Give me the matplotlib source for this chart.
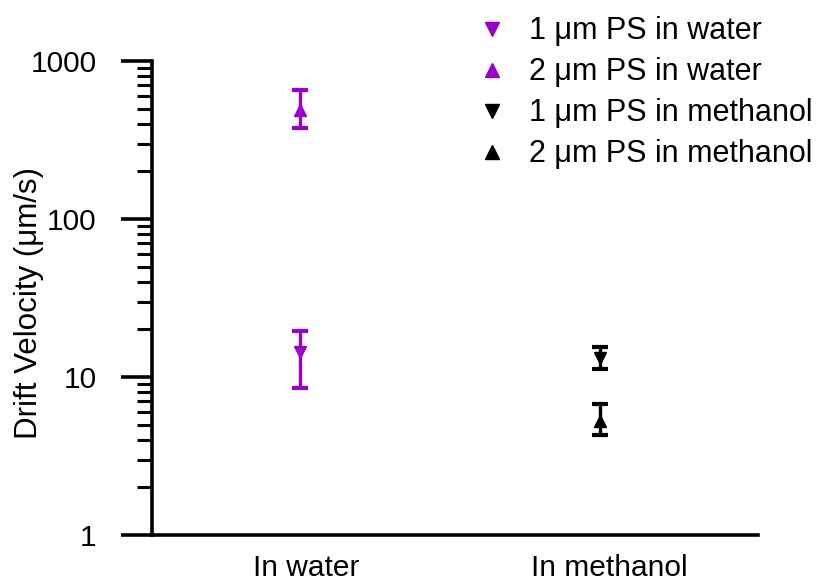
import matplotlib
matplotlib.use("Agg")
import matplotlib.pyplot as plt
from matplotlib.lines import Line2D
from matplotlib.ticker import FixedLocator, NullFormatter, LogLocator
import numpy as np

plt.rcParams['font.family'] = ['Liberation Sans', 'DejaVu Sans']

categories = ["In water", "In methanol"]
series_labels = ["1 \u03bcm PS in water", "2 \u03bcm PS in water",
                 "1 \u03bcm PS in methanol", "2 \u03bcm PS in methanol"]
series_cat = [0, 0, 1, 1]
values = [14.4, 490, 13.2, 5.3]
err_low = [8.5, 377, 11.2, 4.3]
err_high = [19.5, 655, 15.5, 6.75]
markers = ["v", "^", "v", "^"]
colors = ["#9900CC", "#9900CC", "#000000", "#000000"]

cat_pos = [0.98, 2.96]
tick_pos = [1.02, 3.02]

fig = plt.figure(figsize=(8.2, 5.88), dpi=100)
ax = fig.add_axes([152/820, 53/588, 606/820, 474/588])

for i in range(len(values)):
    x = cat_pos[series_cat[i]]
    yerr = [[values[i] - err_low[i]], [err_high[i] - values[i]]]
    ax.errorbar([x], [values[i]], yerr=yerr, fmt=markers[i], color=colors[i],
                ms=9, elinewidth=2.4, capsize=6, capthick=3, zorder=3)

ax.set_yscale('log')
ax.set_ylim(1, 1000)
ax.set_xlim(0, 4)
ax.yaxis.set_major_locator(FixedLocator([1, 10, 100, 1000]))
ax.set_yticklabels(["1", "10", "100", "1000"])
ax.yaxis.set_minor_locator(LogLocator(base=10, subs=np.arange(2, 10)))
ax.yaxis.set_minor_formatter(NullFormatter())
ax.set_xticks(tick_pos)
ax.set_xticklabels(categories)

for s in ['top', 'right']:
    ax.spines[s].set_visible(False)
for s in ['left', 'bottom']:
    ax.spines[s].set_linewidth(2.6)

ax.tick_params(axis='y', which='major', length=22, width=2.6, pad=18, labelsize=21.5, direction='out')
ax.tick_params(axis='y', which='minor', length=11, width=2.2, direction='out')
ax.tick_params(axis='x', which='both', length=0, pad=14, labelsize=21.5)

ax.set_ylabel("Drift Velocity (\u03bcm/s)", fontsize=22.5)
ax.yaxis.set_label_coords(-0.178, 0.49)

handles = [Line2D([], [], linestyle='none', marker=markers[i], color=colors[i], ms=10)
           for i in range(len(values))]
fig.legend(handles, series_labels, loc='upper left', bbox_to_anchor=(0.570, 0.993),
           frameon=False, fontsize=22, handlelength=0.8, handletextpad=0.8,
           labelspacing=0.36, borderaxespad=0)

fig.savefig("out.png", dpi=100)
